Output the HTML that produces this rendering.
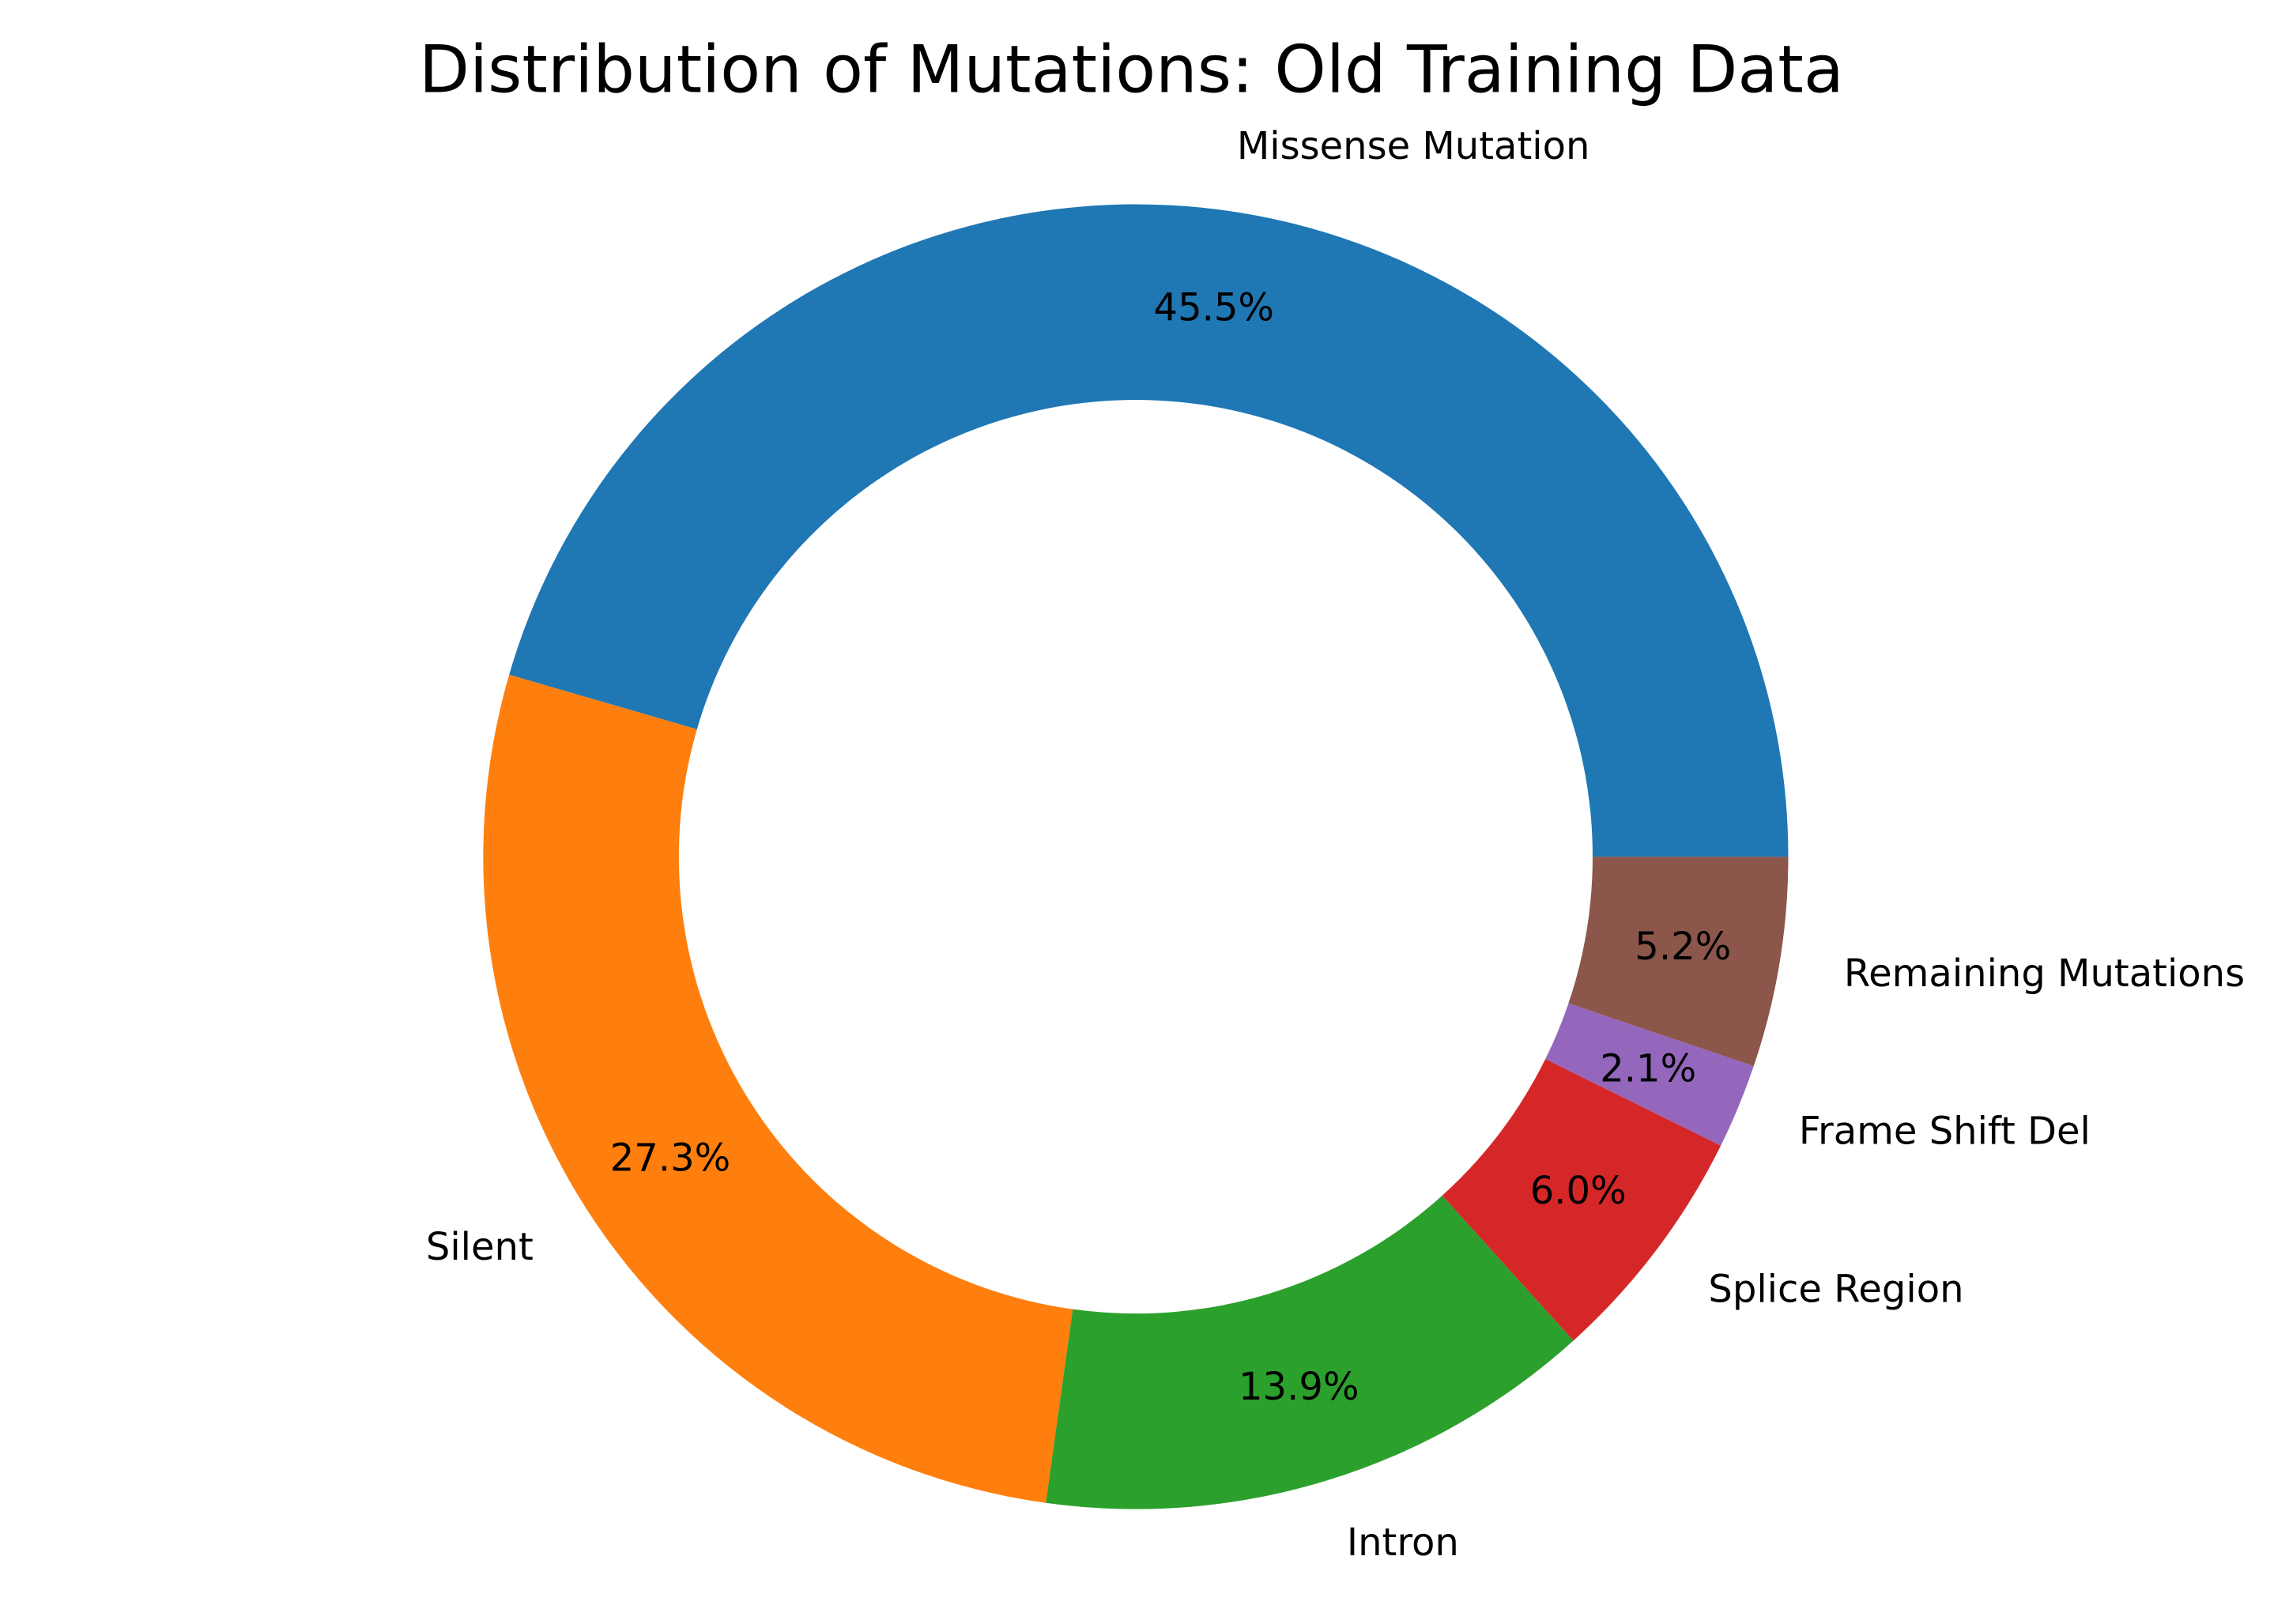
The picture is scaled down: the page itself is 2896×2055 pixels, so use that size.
<!DOCTYPE html>
<html><head><meta charset="utf-8"><style>
html,body{margin:0;padding:0;background:#fff;}
svg{display:block;}
text{font-family:"DejaVu Sans","Liberation Sans",sans-serif;fill:#000;}
</style></head><body>
<svg id="chart" width="2896" height="2055" viewBox="0 0 1568 1112.7" xmlns="http://www.w3.org/2000/svg">
<rect width="1568" height="1113" fill="#fff"/>
<text x="775" y="63" text-anchor="middle" font-size="45">Distribution of Mutations: Old Training Data</text>
<g id="slices"></g>
<g id="labels"></g>
</svg>
<script>
const categories = ["Missense Mutation","Silent","Intron","Splice Region","Frame Shift Del","Remaining Mutations"];
const values = [45.5,27.3,13.9,6.0,2.1,5.2];
const pctLabels = ["45.5%","27.3%","13.9%","6.0%","2.1%","5.2%"];
const colors = ["#1f77b4","#ff7f0e","#2ca02c","#d62728","#9467bd","#8c564b"];

const cx=778, cy=587, R=447, r=313, NS="http://www.w3.org/2000/svg";
const total = values.reduce((a,b)=>a+b,0);
const pt=(rad,a)=>[cx+rad*Math.cos(a), cy-rad*Math.sin(a)];
const gS=document.getElementById('slices'), gL=document.getElementById('labels');
let start=0;
values.forEach((v,i)=>{
  const sweep=v/total*2*Math.PI, end=start+sweep, large=sweep>Math.PI?1:0;
  const [x1,y1]=pt(R,start),[x2,y2]=pt(R,end),[x3,y3]=pt(r,end),[x4,y4]=pt(r,start);
  const p=document.createElementNS(NS,'path');
  p.setAttribute('d',`M${x1},${y1} A${R},${R} 0 ${large} 0 ${x2},${y2} L${x3},${y3} A${r},${r} 0 ${large} 1 ${x4},${y4} Z`);
  p.setAttribute('fill',colors[i]);
  
  
  gS.appendChild(p);
  const mid=(start+end)/2;
  const [lx,ly]=pt(R*1.1,mid);
  const t=document.createElementNS(NS,'text');
  t.setAttribute('x',lx); t.setAttribute('y',ly);
  t.setAttribute('font-size','26');
  t.setAttribute('dominant-baseline','central');
  t.setAttribute('text-anchor', Math.cos(mid)>=0?'start':'end');
  t.textContent=categories[i];
  
  
  gL.appendChild(t);
  const [px,py]=pt(R*0.85,mid);
  const q=document.createElementNS(NS,'text');
  q.setAttribute('x',px); q.setAttribute('y',py);
  q.setAttribute('font-size','26');
  q.setAttribute('dominant-baseline','central');
  q.setAttribute('text-anchor','middle');
  q.textContent=pctLabels[i];
  
  
  gL.appendChild(q);
  start=end;
});
</script>
</body></html>
